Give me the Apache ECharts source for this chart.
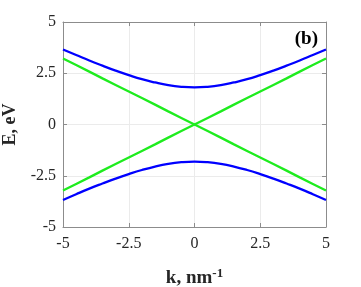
<!DOCTYPE html>
<html>
<head>
<meta charset="utf-8">
<script src="https://cdn.jsdelivr.net/npm/echarts@6/dist/echarts.min.js"></script>
<style>
html,body{margin:0;padding:0;background:#fff;}
#c{width:361px;height:287px;}
</style>
</head>
<body>
<div id="c"></div>
<script>
var kValues = [-5,-4.5,-4,-3.5,-3,-2.5,-2,-1.5,-1,-0.5,0,0.5,1,1.5,2,2.5,3,3.5,4,4.5,5];
var blueUpper = [3.66,3.39,3.12,2.87,2.63,2.41,2.21,2.05,1.92,1.84,1.81,1.84,1.92,2.05,2.21,2.41,2.63,2.87,3.12,3.39,3.66];
var blueLower = [-3.68,-3.40,-3.13,-2.88,-2.64,-2.42,-2.22,-2.05,-1.92,-1.84,-1.81,-1.84,-1.92,-2.05,-2.22,-2.42,-2.64,-2.88,-3.13,-3.40,-3.68];
var greenRising = [-3.22,-2.90,-2.58,-2.25,-1.93,-1.61,-1.29,-0.97,-0.64,-0.32,0,0.32,0.64,0.97,1.29,1.61,1.93,2.25,2.58,2.90,3.22];
var greenFalling = [3.22,2.90,2.58,2.25,1.93,1.61,1.29,0.97,0.64,0.32,0,-0.32,-0.64,-0.97,-1.29,-1.61,-1.93,-2.25,-2.58,-2.90,-3.22];
var xTicks = [-5,-2.5,0,2.5,5];
var yTicks = [-5,-2.5,0,2.5,5];

function pairs(ys){ return kValues.map(function(k,i){ return [k, ys[i]]; }); }
var font = '"Liberation Serif", "Times New Roman", serif';
var chart = echarts.init(document.getElementById('c'), null, {renderer:'canvas'});
var axisLine = {show:true, onZero:false, lineStyle:{color:'#8c8c8c', width:1}};
var tick = {show:true, inside:true, length:4, lineStyle:{color:'#8c8c8c'}};
var grid = {show:true, lineStyle:{color:'#ebebeb', width:1}};
chart.setOption({
  animation:false,
  backgroundColor:'#ffffff',
  grid:{left:63, right:35, top:22, bottom:60, containLabel:false, outerBoundsMode:'none'},
  title:{text:'(b)', right:38, top:25, textStyle:{fontFamily:font, fontWeight:'bold', fontSize:19, color:'#000'}},
  xAxis:[{
    type:'value', min:-5, max:5, interval:2.5, position:'bottom',
    axisLine:axisLine, axisTick:tick, splitLine:grid,
    axisLabel:{fontFamily:font, fontSize:16, color:'#262626', margin:9,
      formatter:function(v){ return xTicks.indexOf(v)>=0 ? String(v) : ''; }},
    name:'{a|k, nm}{b|-1}', nameLocation:'middle', nameGap:40,
    nameTextStyle:{rich:{
      a:{fontFamily:font, fontWeight:'bold', fontSize:19, color:'#262626'},
      b:{fontFamily:font, fontWeight:'bold', fontSize:13, color:'#262626', padding:[0,0,10,0]}
    }}
  },{
    type:'value', min:-5, max:5, interval:2.5, position:'top',
    axisLine:axisLine, axisTick:tick, splitLine:{show:false}, axisLabel:{show:false}
  }],
  yAxis:[{
    type:'value', min:-5, max:5, interval:2.5, position:'left',
    axisLine:axisLine, axisTick:tick, splitLine:grid,
    axisLabel:{fontFamily:font, fontSize:16, color:'#262626', margin:7,
      formatter:function(v){ return yTicks.indexOf(v)>=0 ? String(v) : ''; }},
    name:'E, eV', nameLocation:'middle', nameGap:41, nameRotate:90,
    nameTextStyle:{fontFamily:font, fontWeight:'bold', fontSize:18, color:'#262626'}
  },{
    type:'value', min:-5, max:5, interval:2.5, position:'right',
    axisLine:axisLine, axisTick:tick, splitLine:{show:false}, axisLabel:{show:false}
  }],
  series:[
    {type:'line', data:pairs(blueUpper), smooth:true, showSymbol:false, lineStyle:{color:'#0000ff', width:2.3}},
    {type:'line', data:pairs(blueLower), smooth:true, showSymbol:false, lineStyle:{color:'#0000ff', width:2.3}},
    {type:'line', data:pairs(greenRising), showSymbol:false, lineStyle:{color:'#1eec1e', width:2.3}},
    {type:'line', data:pairs(greenFalling), showSymbol:false, lineStyle:{color:'#1eec1e', width:2.3}}
  ]
});
</script>
</body>
</html>
